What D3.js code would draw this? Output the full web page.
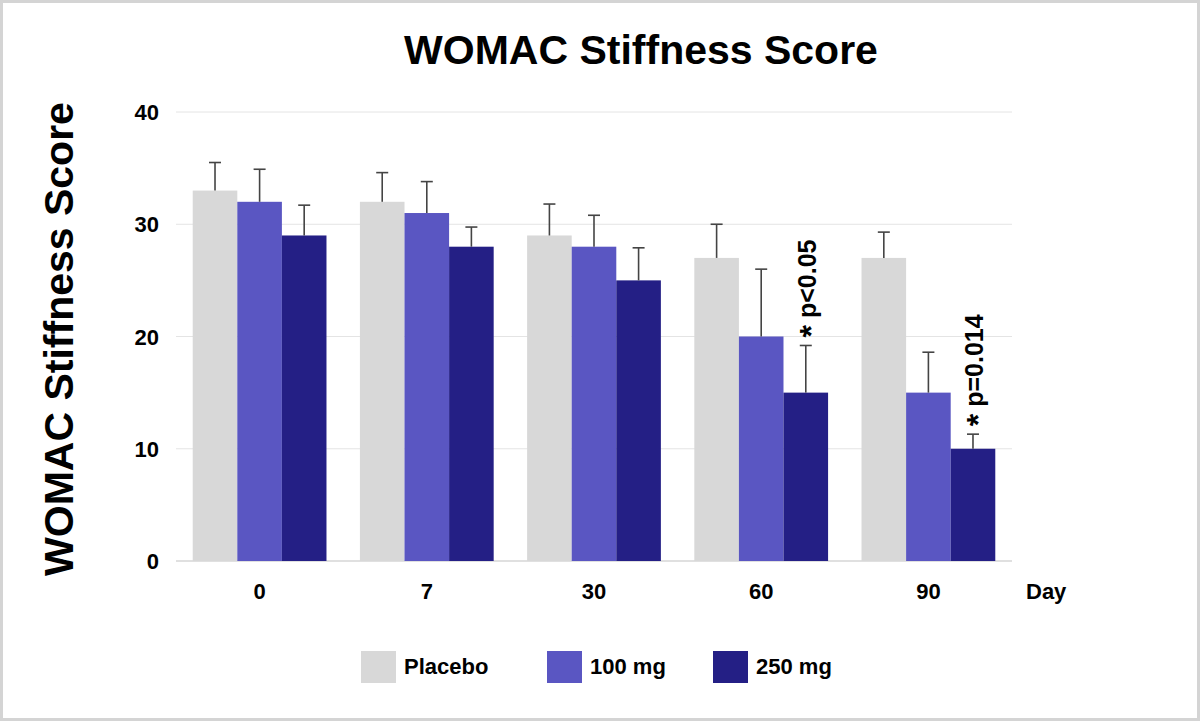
<!DOCTYPE html>
<html>
<head>
<meta charset="utf-8">
<script src="https://cdn.jsdelivr.net/npm/d3@7/dist/d3.min.js"></script>
<style>
  html, body { margin: 0; padding: 0; background: #fff; }
  svg { display: block; }
  text { font-family: "Liberation Sans", Arial, Helvetica, sans-serif; font-weight: bold; fill: #000; }
</style>
</head>
<body>
<svg id="chart" width="1200" height="722"></svg>
<script>
const days = ["0", "7", "30", "60", "90"];
const seriesNames = ["Placebo", "100 mg", "250 mg"];
const seriesColors = ["#d8d8d8", "#5a56c2", "#241f85"];
const placebo = [33, 32, 29, 27, 27];
const mg100 = [32, 31, 28, 20, 15];
const mg250 = [29, 28, 25, 15, 10];
const placeboErr = [2.5, 2.6, 2.8, 3.0, 2.3];
const mg100Err = [2.9, 2.8, 2.8, 6.0, 3.6];
const mg250Err = [2.7, 1.75, 2.9, 4.2, 1.3];
const yTicks = [0, 10, 20, 30, 40];
const annotations = [
  { day: "60", series: 2, mark: "*", label: " p<0.05" },
  { day: "90", series: 2, mark: "*", label: " p=0.014" }
];

(function () {
const values = [placebo, mg100, mg250];
const errors = [placeboErr, mg100Err, mg250Err];

const svg = d3.select("#chart");

// frame
svg.append("rect").attr("x", 1.5).attr("y", 1.5).attr("width", 1197).attr("height", 718)
  .attr("fill", "#fff").attr("stroke", "#d4d4d4").attr("stroke-width", 3);

const pLeft = 176, pRight = 1012, pTop = 112, pBottom = 561;

const x0 = d3.scaleBand().domain(days).range([pLeft, pRight]).paddingInner(0.2).paddingOuter(0.1);
const x1 = d3.scaleBand().domain(d3.range(seriesNames.length)).range([0, x0.bandwidth()]);
const y = d3.scaleLinear().domain([0, 40]).range([pBottom, pTop]);

// gridlines
svg.append("g").selectAll("line").data(yTicks).join("line")
  .attr("x1", pLeft).attr("x2", pRight)
  .attr("y1", d => y(d)).attr("y2", d => y(d))
  .attr("stroke", d => d === 0 ? "#d6d6d6" : "#e4e4e4").attr("stroke-width", d => d === 0 ? 1.5 : 1);

// y tick labels
svg.append("g").selectAll("text").data(yTicks).join("text")
  .attr("x", 159).attr("y", d => y(d) + 8)
  .attr("text-anchor", "end").attr("font-size", 22)
  .text(d => d);

// bars
const data = [];
days.forEach((d, i) => seriesNames.forEach((s, j) => {
  data.push({ day: d, s: j, v: values[j][i], e: errors[j][i] });
}));

svg.append("g").selectAll("rect").data(data).join("rect")
  .attr("x", d => x0(d.day) + x1(d.s))
  .attr("width", x1.bandwidth())
  .attr("y", d => y(d.v))
  .attr("height", d => y(0) - y(d.v))
  .attr("fill", d => seriesColors[d.s]);

// error bars
const eg = svg.append("g").attr("stroke", "#444").attr("stroke-width", 1.6);
data.forEach(d => {
  const cx = x0(d.day) + x1(d.s) + x1.bandwidth() / 2;
  eg.append("line").attr("x1", cx).attr("x2", cx).attr("y1", y(d.v)).attr("y2", y(d.v + d.e));
  eg.append("line").attr("x1", cx - 6).attr("x2", cx + 6).attr("y1", y(d.v + d.e)).attr("y2", y(d.v + d.e));
});

// x labels
svg.append("g").selectAll("text").data(days).join("text")
  .attr("x", d => x0(d) + x0.bandwidth() / 2).attr("y", 599)
  .attr("text-anchor", "middle").attr("font-size", 22)
  .text(d => d);
svg.append("text").attr("x", 1026).attr("y", 599).attr("font-size", 22).text("Day");

// annotations
annotations.forEach(a => {
  const i = days.indexOf(a.day);
  const v = values[a.series][i] + errors[a.series][i];
  const cx = x0(a.day) + x1(a.series) + x1.bandwidth() / 2;
  const yy = y(v) - 8;
  const t = svg.append("text")
    .attr("transform", `translate(${cx + 10},${yy}) rotate(-90)`)
    .attr("font-size", 25);
  t.append("tspan").attr("font-size", 32).attr("dy", 6).text(a.mark);
  t.append("tspan").attr("dy", -6).text(a.label);
});

// title
svg.append("text").attr("x", 641).attr("y", 64).attr("text-anchor", "middle")
  .attr("font-size", 41).text("WOMAC Stiffness Score");

// y axis title
svg.append("text").attr("transform", "translate(73,339) rotate(-90)")
  .attr("text-anchor", "middle").attr("font-size", 41).text("WOMAC Stiffness Score");

// legend
const legendX = [361, 547, 713];
const lg = svg.append("g");
seriesNames.forEach((s, j) => {
  lg.append("rect").attr("x", legendX[j]).attr("y", 651).attr("width", 35).attr("height", 32)
    .attr("fill", seriesColors[j]);
  lg.append("text").attr("x", legendX[j] + 43).attr("y", 674).attr("font-size", 22).text(s);
});
})();
</script>
</body>
</html>
